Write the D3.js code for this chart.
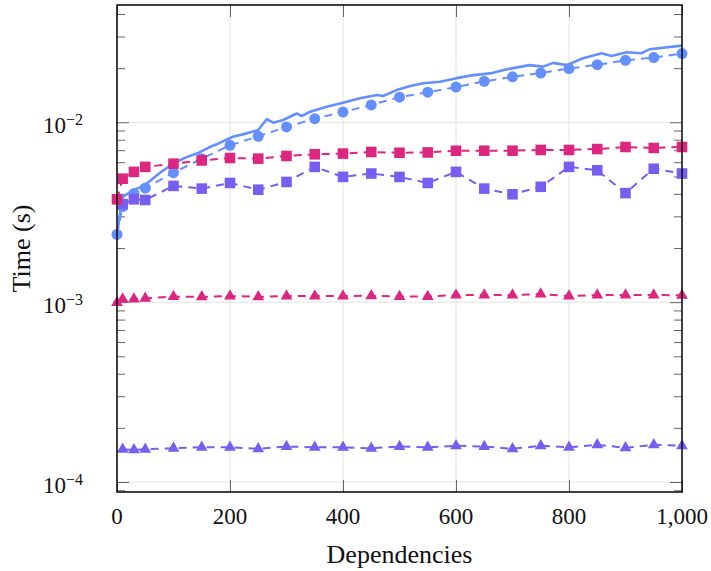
<!DOCTYPE html>
<html>
<head>
<meta charset="utf-8">
<script src="https://cdn.jsdelivr.net/npm/d3@7"></script>
<style>
  body { margin: 0; background: #fff; }
  text { font-family: "Liberation Serif", "DejaVu Serif", serif; fill: #111; }
</style>
</head>
<body>
<div id="chart"></div>
<script>
// --------------- Data ---------------
const markerX = [0, 10, 30, 50, 100, 150, 200, 250, 300, 350, 400, 450, 500,
  550, 600, 650, 700, 750, 800, 850, 900, 950, 1000];

// solid blue line, vertices where it kinks
const solidX = [0, 10, 30, 50, 75, 100, 125, 145, 165, 180, 205, 230, 250, 265, 277,
  294, 318, 327, 342, 371, 400, 430, 460, 471, 495, 519, 542, 572, 601, 631, 660,
  690, 730, 754, 772, 796, 825, 858, 875, 902, 928, 943, 1000];
const solidY = [2.41e-3, 3.85e-3, 4.21e-3, 4.49e-3, 5.21e-3, 5.92e-3, 6.44e-3, 6.78e-3,
  7.31e-3, 7.63e-3, 8.31e-3, 8.68e-3, 9.06e-3, 1.04e-2, 9.95e-3, 1.03e-2, 1.12e-2,
  1.084e-2, 1.146e-2, 1.22e-2, 1.285e-2, 1.36e-2, 1.42e-2, 1.40e-2, 1.51e-2, 1.59e-2,
  1.65e-2, 1.68e-2, 1.76e-2, 1.83e-2, 1.87e-2, 1.97e-2, 2.08e-2, 2.04e-2, 2.14e-2,
  2.08e-2, 2.27e-2, 2.42e-2, 2.34e-2, 2.45e-2, 2.42e-2, 2.55e-2, 2.67e-2];

const blueCircles = [2.38e-3, 3.4e-3, 4.02e-3, 4.31e-3, 5.25e-3, 6.28e-3, 7.45e-3, 8.36e-3,
  9.42e-3, 1.048e-2, 1.14e-2, 1.25e-2, 1.38e-2, 1.47e-2, 1.57e-2, 1.69e-2, 1.79e-2,
  1.88e-2, 1.99e-2, 2.09e-2, 2.21e-2, 2.29e-2, 2.41e-2];

const magentaSquares = [3.73e-3, 4.86e-3, 5.3e-3, 5.65e-3, 5.89e-3, 6.14e-3, 6.33e-3, 6.28e-3,
  6.5e-3, 6.64e-3, 6.7e-3, 6.84e-3, 6.77e-3, 6.8e-3, 6.95e-3, 6.95e-3, 6.95e-3,
  7.02e-3, 7.02e-3, 7.1e-3, 7.29e-3, 7.2e-3, 7.29e-3];

// purple series have no point at x = 0
const purpleSquares = [null, 3.51e-3, 3.73e-3, 3.7e-3, 4.43e-3, 4.28e-3, 4.6e-3, 4.22e-3,
  4.66e-3, 5.65e-3, 4.97e-3, 5.19e-3, 4.97e-3, 4.6e-3, 5.3e-3, 4.28e-3, 3.98e-3,
  4.38e-3, 5.65e-3, 5.41e-3, 4.04e-3, 5.52e-3, 5.19e-3];

const magentaTriangles = [9.93e-4, 1.04e-3, 1.04e-3, 1.05e-3, 1.074e-3, 1.07e-3, 1.082e-3,
  1.07e-3, 1.082e-3, 1.082e-3, 1.082e-3, 1.085e-3, 1.074e-3, 1.074e-3, 1.096e-3,
  1.096e-3, 1.096e-3, 1.11e-3, 1.082e-3, 1.096e-3, 1.096e-3, 1.096e-3, 1.09e-3];

const purpleTriangles = [null, 1.52e-4, 1.51e-4, 1.52e-4, 1.54e-4, 1.56e-4, 1.56e-4, 1.53e-4,
  1.575e-4, 1.56e-4, 1.56e-4, 1.54e-4, 1.575e-4, 1.56e-4, 1.59e-4, 1.575e-4, 1.53e-4,
  1.59e-4, 1.56e-4, 1.61e-4, 1.55e-4, 1.61e-4, 1.59e-4];

const xTicks = [0, 200, 400, 600, 800, 1000];
const yTicks = [1e-4, 1e-3, 1e-2];

// --------------- Constants ---------------
const WIDTH = 711;
const HEIGHT = 571;
const margin = { top: 5, right: 29, bottom: 79, left: 117 };
const BLUE = "#648fff";
const PURPLE = "#785ef0";
const MAGENTA = "#dc267f";

const svg = d3.select("#chart").append("svg")
  .attr("width", WIDTH)
  .attr("height", HEIGHT);

const x = d3.scaleLinear()
  .domain([0, 1000])
  .range([margin.left, WIDTH - margin.right]);

const y = d3.scaleLog()
  .domain([8.8e-5, 4.49e-2])
  .range([HEIGHT - margin.bottom, margin.top]);

const x0 = margin.left, x1 = WIDTH - margin.right;
const y0 = HEIGHT - margin.bottom, y1 = margin.top;

// minor ticks 2..9 x 10^k inside the domain
const minorTicks = [];
[-5, -4, -3, -2].forEach((k) => {
  for (let m = 2; m <= 9; m++) {
    const v = m * Math.pow(10, k);
    if (v > y.domain()[0] && v < y.domain()[1]) minorTicks.push(v);
  }
});

// --------------- Grid ---------------
const grid = svg.append("g").attr("stroke", "#e3e3e3").attr("stroke-width", 1);
grid.selectAll("line.gx").data(xTicks.slice(1, -1)).enter().append("line")
  .attr("x1", (d) => x(d)).attr("x2", (d) => x(d))
  .attr("y1", y1).attr("y2", y0);
grid.selectAll("line.gy").data(yTicks).enter().append("line")
  .attr("x1", x0).attr("x2", x1)
  .attr("y1", (d) => y(d)).attr("y2", (d) => y(d));

// --------------- Tick marks (all four sides, pointing inward) ---------------
function tickAxis(axis, tx, ty) {
  const g = svg.append("g").attr("transform", `translate(${tx},${ty})`).call(axis);
  g.select(".domain").remove();
  g.selectAll("line").attr("stroke", "#666").attr("stroke-width", 1);
  return g;
}
tickAxis(d3.axisBottom(x).tickValues(xTicks).tickSize(-12).tickFormat(""), 0, y0);
tickAxis(d3.axisTop(x).tickValues(xTicks).tickSize(-12).tickFormat(""), 0, y1);
tickAxis(d3.axisLeft(y).tickValues(yTicks).tickSize(-12).tickFormat(""), x0, 0);
tickAxis(d3.axisRight(y).tickValues(yTicks).tickSize(-12).tickFormat(""), x1, 0);
tickAxis(d3.axisLeft(y).tickValues(minorTicks).tickSize(-8).tickFormat(""), x0, 0);
tickAxis(d3.axisRight(y).tickValues(minorTicks).tickSize(-8).tickFormat(""), x1, 0);

// --------------- Tick labels ---------------
svg.append("g").selectAll("text").data(xTicks).enter().append("text")
  .attr("x", (d) => x(d))
  .attr("y", y0 + 32)
  .attr("text-anchor", "middle")
  .attr("font-size", 23)
  .text(d3.format(","));

const yLab = svg.append("g").selectAll("text").data(yTicks).enter().append("text")
  .attr("x", x0 - 34)
  .attr("y", (d) => y(d) + 11)
  .attr("text-anchor", "end")
  .attr("font-size", 23);
yLab.append("tspan").text("10");
yLab.append("tspan")
  .attr("dy", -8)
  .attr("font-size", 16)
  .text((d) => "\u2212" + Math.round(-Math.log10(d)));

// --------------- Series ---------------
const plot = svg.append("g");
const line = d3.line()
  .defined((d) => d[1] != null)
  .x((d) => x(d[0]))
  .y((d) => y(d[1]));

function drawSeries(values, color, symbol, size) {
  const pts = markerX.map((d, i) => [d, values[i]]).filter((d) => d[1] != null);
  plot.append("path")
    .datum(pts)
    .attr("d", line)
    .attr("fill", "none")
    .attr("stroke", color)
    .attr("stroke-width", 2)
    .attr("stroke-dasharray", "8,6");
  plot.append("g").selectAll("path").data(pts).enter().append("path")
    .attr("transform", (d) => `translate(${x(d[0])},${y(d[1])})`)
    .attr("d", d3.symbol().type(symbol).size(size))
    .attr("fill", color);
}

plot.append("path")
  .datum(solidX.map((d, i) => [d, solidY[i]]))
  .attr("d", line)
  .attr("fill", "none")
  .attr("stroke", BLUE)
  .attr("stroke-width", 2.6)
  .attr("stroke-linejoin", "round");

drawSeries(blueCircles, BLUE, d3.symbolCircle, 95);
drawSeries(purpleSquares, PURPLE, d3.symbolSquare, 112);
drawSeries(magentaSquares, MAGENTA, d3.symbolSquare, 112);
drawSeries(magentaTriangles, MAGENTA, d3.symbolTriangle, 60);
drawSeries(purpleTriangles, PURPLE, d3.symbolTriangle, 60);

// --------------- Frame ---------------
svg.append("rect")
  .attr("x", x0).attr("y", y1)
  .attr("width", x1 - x0).attr("height", y0 - y1)
  .attr("fill", "none")
  .attr("stroke", "#111")
  .attr("stroke-width", 1.6);

// --------------- Axis titles ---------------
svg.append("text")
  .attr("x", (x0 + x1) / 2)
  .attr("y", 563)
  .attr("text-anchor", "middle")
  .attr("font-size", 26)
  .text("Dependencies");

svg.append("text")
  .attr("transform", `translate(30,${(y0 + y1) / 2}) rotate(-90)`)
  .attr("text-anchor", "middle")
  .attr("font-size", 26)
  .text("Time (s)");
</script>
</body>
</html>
